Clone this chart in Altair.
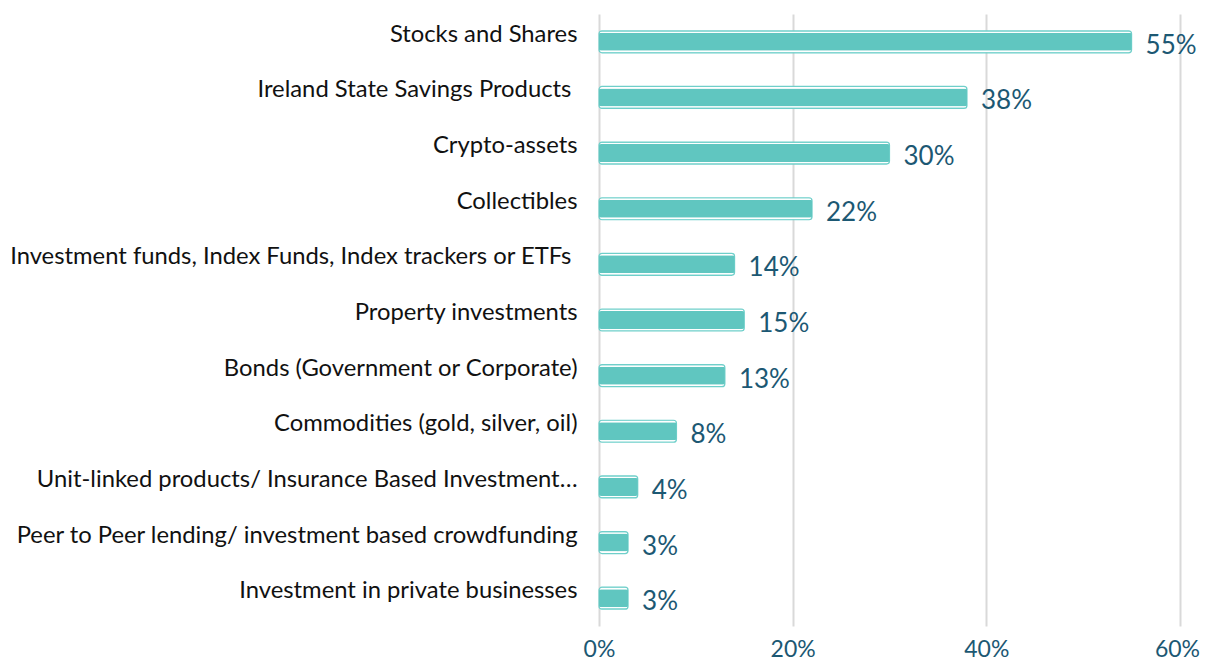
import altair as alt
import pandas as pd

categories = [
    "Stocks and Shares",
    "Ireland State Savings Products\u00a0\u200b",
    "Crypto-assets",
    "Collectibles",
    "Investment funds, Index Funds, Index trackers or ETFs\u00a0\u200b",
    "Property investments",
    "Bonds (Government or Corporate)",
    "Commodities (gold, silver, oil)",
    "Unit-linked products/ Insurance Based Investment\u2026",
    "Peer to Peer lending/ investment based crowdfunding",
    "Investment in private businesses",
]
values = [55, 38, 30, 22, 14, 15, 13, 8, 4, 3, 3]

df = pd.DataFrame({"cat": categories, "val": values})
df["label"] = df["val"].astype(str) + "%"
df["frac"] = df["val"] / 100.0

teal_text = "#1c5873"
y = alt.Y("cat:N", sort=categories, title=None,
          axis=alt.Axis(labelFont="Lato", labelFontSize=23.8, labelColor="#111111",
                        labelPadding=22, ticks=False, domain=False, labelLimit=620,
                        labelOffset=-7),
          scale=alt.Scale(paddingInner=0.62, paddingOuter=0.31))
x = alt.X("frac:Q", title=None,
          scale=alt.Scale(domain=[0, 0.6]),
          axis=alt.Axis(format=".0%", values=[0, 0.2, 0.4, 0.6], labelFont="Lato",
                        labelFontSize=23, labelColor=teal_text, ticks=False, domain=False,
                        grid=True, gridColor="#d9d9d9", gridWidth=2, labelPadding=12,
                        labelFlush=False,
                        labelOffset={"condition": {"test": "datum.value >= 0.59", "value": -3},
                                     "value": 0}))

base = alt.Chart(df)

outer = base.mark_bar(fill="white", stroke="#6fcfca", strokeWidth=1.2, cornerRadius=3,
                      size=22).encode(x=x, y=y)
inner = base.mark_bar(color="#60c6c0", cornerRadius=2, size=18).encode(x=x, y=y)
text = base.mark_text(align="left", baseline="middle", dx=14, dy=4, font="Lato",
                      fontSize=26, color=teal_text).encode(
    x="frac:Q", y=alt.Y("cat:N", sort=categories), text="label:N")

chart = alt.layer(outer, inner, text).properties(
    width=581, height=612,
    autosize=alt.AutoSizeParams(type="none"),
    padding={"left": 591, "top": 6, "right": 20, "bottom": 36},
).configure_view(stroke=None)

chart.save("out.html", embed_options={"renderer": "svg", "actions": False})
